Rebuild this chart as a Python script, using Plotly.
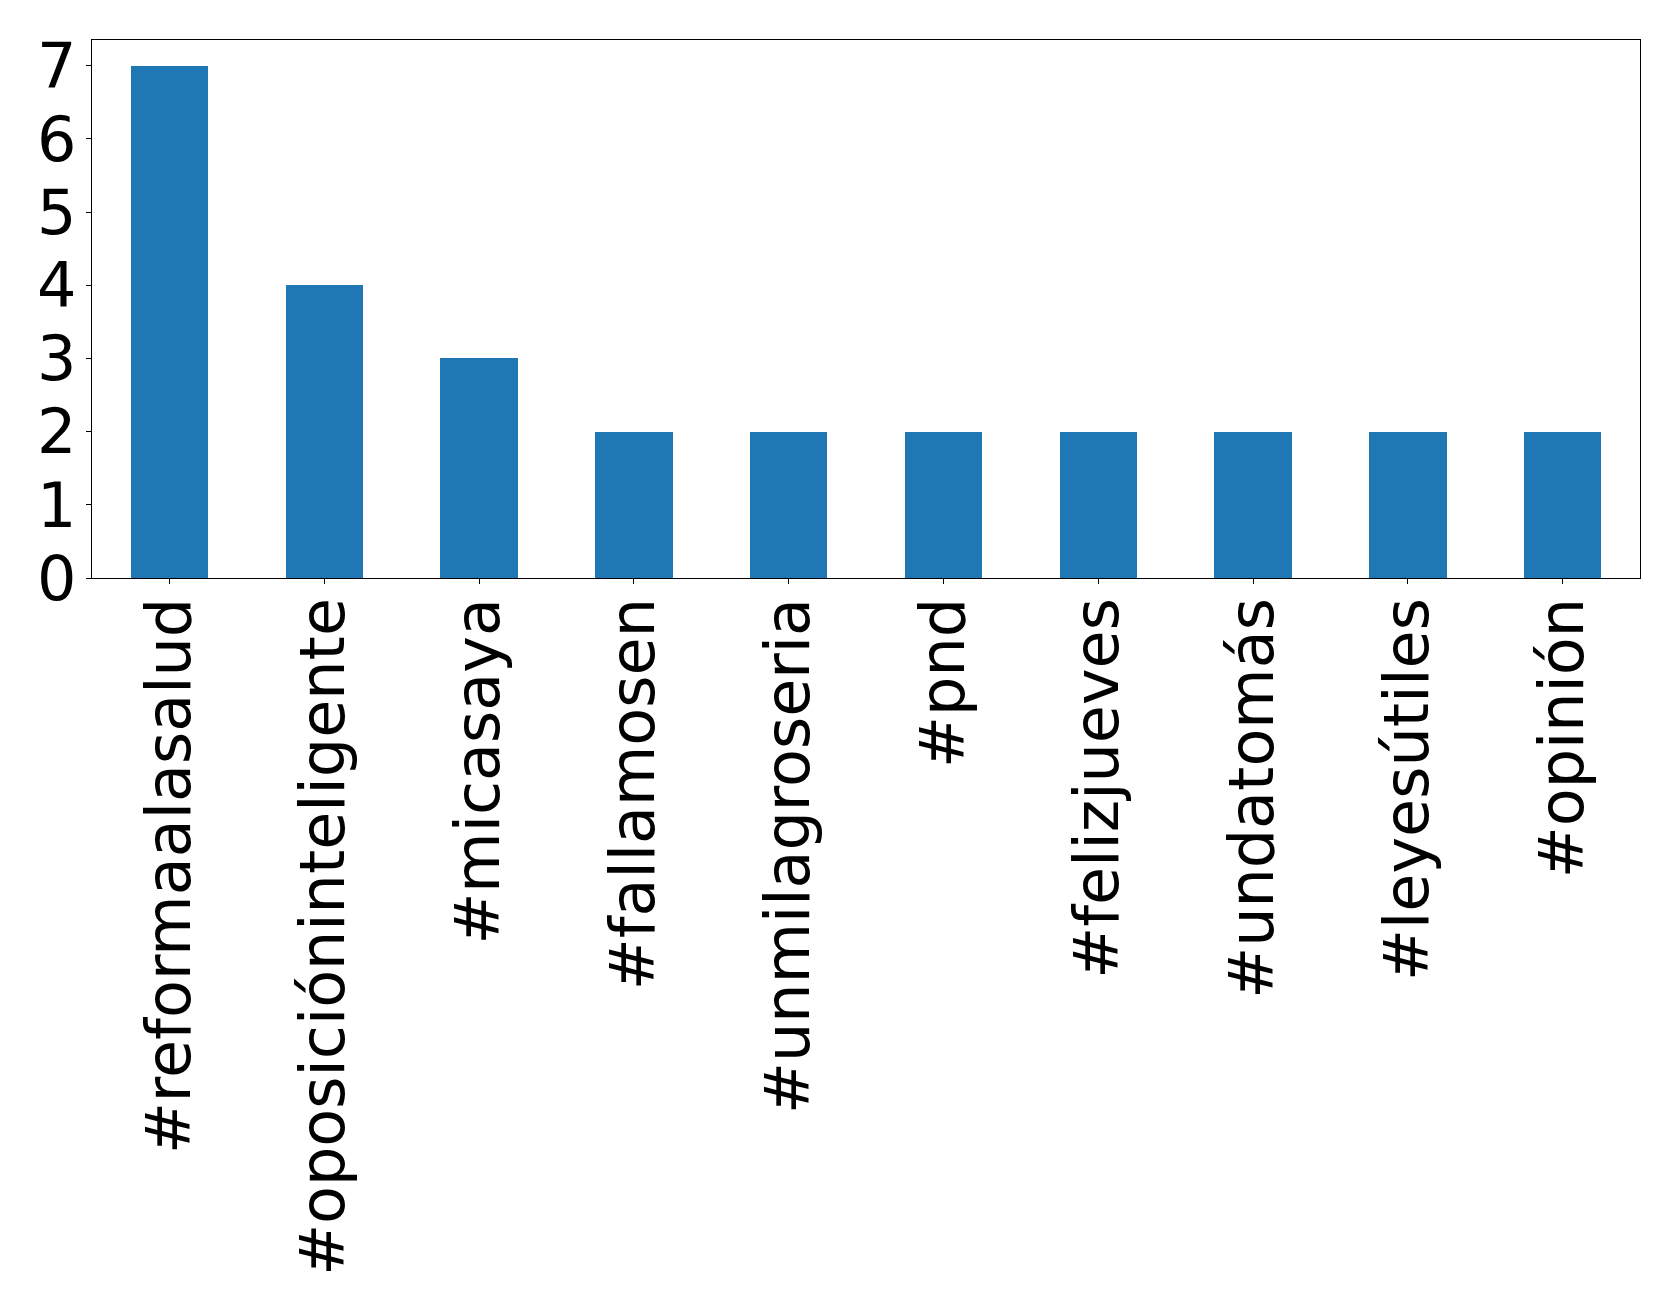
import plotly.graph_objects as go

categories = ["#reformaalasalud", "#oposicióninteligente", "#micasaya", "#fallamosen",
              "#unmilagroseria", "#pnd", "#felizjueves", "#undatomás", "#leyesútiles", "#opinión"]
counts = [7, 4, 3, 2, 2, 2, 2, 2, 2, 2]
y_ticks = [0, 1, 2, 3, 4, 5, 6, 7]

fig = go.Figure(go.Bar(x=categories, y=counts, marker_color="#1f77b4", width=0.5,
                       marker_line_width=0))

font = dict(family="DejaVu Sans", size=62, color="black")
fig.update_layout(
    width=1679, height=1311,
    margin=dict(l=84, r=47, t=32, b=741, autoexpand=False),
    paper_bgcolor="white", plot_bgcolor="white",
    showlegend=False,
    bargap=0,
)
fig.update_xaxes(
    type="category", range=[-0.5, 9.5], tickangle=-90, tickfont=font,
    showline=True, linecolor="black", linewidth=1.3, mirror=True,
    ticks="outside", ticklen=5, tickcolor="black", tickwidth=1.3,
    showgrid=False, zeroline=False, automargin=False, ticklabelstandoff=-11,
)
fig.update_yaxes(
    range=[0, 7.35], tickvals=y_ticks, tickfont=font,
    showline=True, linecolor="black", linewidth=1.3, mirror=True,
    ticks="outside", ticklen=5, tickcolor="black", tickwidth=1.3,
    showgrid=False, zeroline=False, automargin=False, ticklabelstandoff=-3,
)
fig.write_html("out.html")
